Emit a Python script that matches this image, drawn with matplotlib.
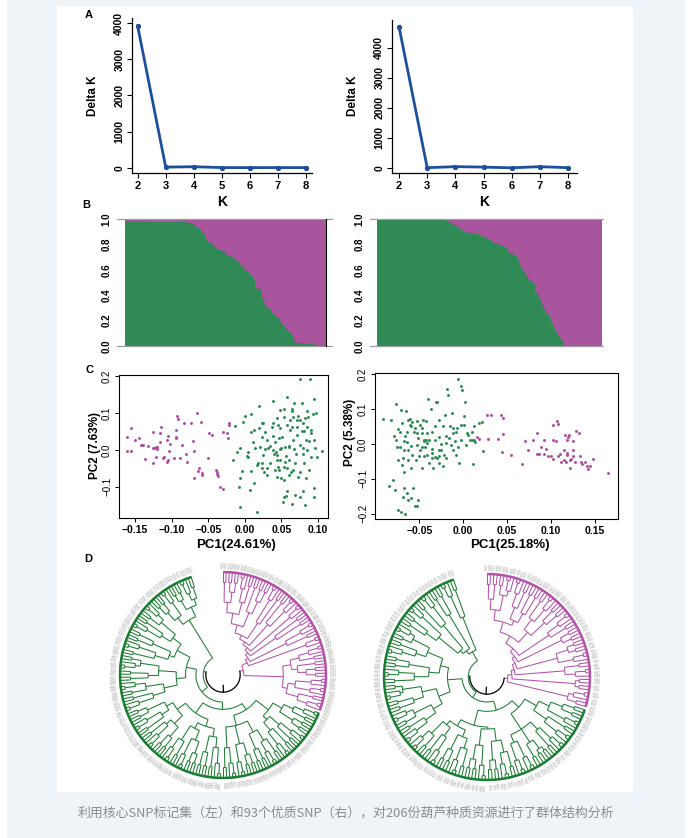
import numpy as np
import matplotlib
matplotlib.use("Agg")
import matplotlib.pyplot as plt
from matplotlib.patches import Rectangle
from matplotlib.collections import LineCollection

W, H = 692, 838

# ---------------- data ----------------
k_values = [2, 3, 4, 5, 6, 7, 8]
delta_k_left = [3920, 25, 35, 12, 10, 12, 10]
delta_k_right = [4700, 10, 45, 30, 5, 45, 10]

# green (Q1) membership per sample, sorted, run-length encoded (value, count)
green_runs_left = [(0.985, 20), (0.98, 30), (0.975, 15), (0.97, 6), (0.95, 2), (0.93, 3),
                   (0.91, 3), (0.89, 3), (0.84, 2), (0.82, 3), (0.81, 4), (0.78, 3),
                   (0.76, 4), (0.75, 6), (0.72, 5), (0.70, 3), (0.68, 3), (0.66, 3),
                   (0.64, 3), (0.61, 3), (0.59, 3), (0.56, 4), (0.52, 2), (0.46, 3),
                   (0.45, 4), (0.38, 2), (0.34, 3), (0.31, 3), (0.28, 3), (0.25, 4),
                   (0.23, 3), (0.19, 3), (0.16, 3), (0.13, 3), (0.11, 3), (0.09, 3),
                   (0.04, 2), (0.02, 10), (0.015, 11), (0.01, 10)]
green_runs_right = [(1.0, 62), (0.99, 2), (0.98, 3), (0.96, 3), (0.95, 3), (0.93, 3),
                    (0.91, 3), (0.90, 4), (0.89, 5), (0.88, 5), (0.87, 5), (0.85, 3),
                    (0.84, 3), (0.83, 3), (0.81, 3), (0.80, 3), (0.79, 3), (0.77, 3),
                    (0.75, 3), (0.73, 3), (0.71, 3), (0.68, 2), (0.64, 2), (0.61, 2),
                    (0.58, 2), (0.55, 2), (0.53, 2), (0.51, 3), (0.49, 2), (0.42, 2),
                    (0.40, 2), (0.36, 2), (0.32, 2), (0.29, 2), (0.26, 2), (0.22, 2),
                    (0.18, 2), (0.15, 2), (0.12, 2), (0.09, 2), (0.06, 2), (0.03, 2),
                    (0.01, 1), (0.0, 34)]

pca_left_magenta = [
    (-0.161, -0.002), (-0.156, -0.002), (-0.161, 0.036), (-0.155, 0.058), (-0.150, 0.027),
    (-0.142, 0.013), (-0.136, -0.025), (-0.139, 0.013), (-0.132, 0.010), (-0.126, 0.047),
    (-0.126, 0.004), (-0.124, 0.004), (-0.121, 0.007), (-0.120, 0.008), (-0.120, 0.001),
    (-0.126, -0.037), (-0.121, -0.020), (-0.116, 0.045), (-0.115, 0.061), (-0.116, 0.022),
    (-0.112, -0.023), (-0.110, -0.019), (-0.106, 0.027), (-0.105, 0.037), (-0.103, -0.002),
    (-0.102, 0.016), (-0.105, -0.028), (-0.097, -0.023), (-0.094, 0.055), (-0.093, 0.093),
    (-0.091, 0.083), (-0.094, 0.031), (-0.094, 0.035), (-0.089, -0.021), (-0.086, 0.013),
    (-0.083, 0.072), (-0.080, -0.012), (-0.073, 0.074), (-0.071, 0.025), (-0.070, -0.002),
    (-0.069, -0.077), (-0.066, 0.101), (-0.064, -0.057), (-0.062, -0.050), (-0.060, 0.076),
    (-0.059, -0.068), (-0.058, -0.064), (-0.050, -0.023), (-0.049, 0.045), (-0.045, 0.040),
    (-0.039, -0.055), (-0.038, -0.066), (-0.038, -0.059), (-0.036, -0.071), (-0.034, -0.100),
    (-0.030, -0.106), (-0.030, 0.047), (-0.025, 0.046), (-0.023, 0.031), (-0.022, 0.066),
    (-0.021, 0.074), (-0.145, 0.031), (-0.107, -0.032), (-0.079, -0.032)]
pca_left_green = [
    (-0.013, 0.064), (-0.016, -0.028), (-0.011, -0.007), (-0.007, 0.004), (-0.006, -0.077),
    (-0.004, -0.057), (-0.008, -0.100), (-0.007, -0.156), (-0.002, 0.076), (0.000, 0.092),
    (0.003, -0.016), (0.005, -0.020), (0.009, 0.096), (0.009, 0.049), (0.007, -0.109),
    (0.008, -0.057), (0.012, -0.089), (0.014, 0.006), (0.016, -0.170), (0.018, -0.035),
    (0.020, 0.120), (0.023, -0.037), (0.024, 0.036), (0.024, 0.074), (0.025, -0.014),
    (0.026, -0.060), (0.028, 0.001), (0.030, 0.027), (0.031, 0.004), (0.034, -0.037),
    (0.037, 0.063), (0.038, 0.132), (0.039, 0.037), (0.040, -0.010), (0.041, 0.022),
    (0.043, -0.007), (0.044, -0.073), (0.044, -0.028), (0.046, 0.066), (0.047, -0.055),
    (0.048, 0.001), (0.049, 0.004), (0.050, -0.077), (0.051, 0.036), (0.052, -0.141),
    (0.053, -0.082), (0.054, 0.090), (0.055, -0.034), (0.056, -0.016), (0.057, 0.067),
    (0.058, 0.144), (0.060, -0.068), (0.061, 0.010), (0.062, 0.054), (0.063, -0.059),
    (0.064, 0.106), (0.065, 0.110), (0.066, 0.027), (0.067, 0.001), (0.069, -0.035),
    (0.070, -0.010), (0.071, 0.081), (0.072, 0.063), (0.073, 0.092), (0.075, 0.013),
    (0.075, -0.059), (0.076, 0.191), (0.078, 0.128), (0.079, 0.072), (0.080, 0.006),
    (0.081, -0.035), (0.082, 0.085), (0.083, -0.077), (0.085, 0.063), (0.085, -0.001),
    (0.085, 0.106), (0.087, 0.090), (0.088, -0.055), (0.089, 0.191), (0.090, 0.046),
    (0.091, -0.019), (0.093, 0.097), (0.094, 0.137), (0.094, -0.104), (0.095, -0.129),
    (0.094, 0.027), (0.096, 0.004), (0.097, 0.099), (0.099, -0.020), (0.105, -0.002),
    (0.053, -0.129), (0.056, -0.125), (0.058, -0.113), (0.069, -0.122), (0.075, -0.127),
    (0.080, -0.113), (0.082, -0.150), (0.065, -0.147), (0.030, -0.050), (0.023, -0.050),
    (0.038, -0.001), (0.046, -0.046), (0.057, -0.048), (0.066, -0.055), (0.073, -0.073),
    (0.044, -0.014), (0.061, -0.028), (0.079, -0.011), (0.084, 0.027), (0.088, 0.024),
    (0.091, 0.054), (0.047, 0.031), (0.055, 0.007), (0.060, 0.007), (0.071, 0.040),
    (0.075, 0.081), (0.078, 0.052), (0.081, 0.051), (0.034, 0.010), (0.039, 0.072),
    (0.044, 0.085), (0.048, 0.058), (0.064, 0.061), (0.066, 0.090), (0.048, 0.108),
    (0.054, 0.112), (0.062, 0.081), (0.067, 0.128), (0.053, -0.046), (0.041, -0.055),
    (0.030, -0.068), (0.016, -0.041), (0.011, 0.022), (0.012, 0.054), (0.021, 0.007),
    (0.025, 0.072), (0.028, 0.049), (0.020, 0.058), (0.004, -0.005), (0.048, -0.028)]

pca_right_magenta = [
    (0.027, 0.084), (0.032, 0.084), (0.043, 0.084), (0.046, 0.075), (0.045, 0.030),
    (0.040, 0.014), (0.044, -0.024), (0.028, 0.015), (0.016, 0.019), (0.018, 0.015),
    (0.055, -0.031), (0.067, -0.057), (0.070, 0.008), (0.074, -0.016), (0.080, 0.012),
    (0.084, 0.033), (0.084, -0.029), (0.089, -0.009), (0.092, 0.012), (0.095, -0.014),
    (0.097, -0.035), (0.100, -0.033), (0.102, 0.056), (0.103, 0.012), (0.103, -0.043),
    (0.106, 0.008), (0.107, 0.065), (0.108, -0.033), (0.110, -0.029), (0.112, -0.050),
    (0.115, -0.018), (0.116, 0.027), (0.117, -0.050), (0.118, -0.031), (0.119, 0.012),
    (0.120, 0.020), (0.121, 0.027), (0.122, -0.045), (0.122, -0.069), (0.123, -0.043),
    (0.125, -0.018), (0.125, 0.008), (0.127, -0.050), (0.129, 0.038), (0.132, 0.033),
    (0.133, -0.035), (0.134, -0.050), (0.136, -0.056), (0.139, -0.050), (0.141, -0.062),
    (0.142, -0.072), (0.145, -0.062), (0.148, -0.043), (0.165, -0.083), (0.108, 0.058),
    (0.119, -0.026), (0.115, -0.045), (0.125, -0.035), (0.086, -0.029), (0.092, -0.029)]
pca_right_green = [
    (-0.091, 0.072), (-0.082, 0.068), (-0.079, 0.024), (-0.077, 0.012), (-0.077, 0.116),
    (-0.071, 0.097), (-0.070, 0.060), (-0.074, 0.043), (-0.072, -0.009), (-0.075, -0.009),
    (-0.074, -0.045), (-0.070, -0.059), (-0.069, -0.040), (-0.068, -0.081), (-0.080, -0.104),
    (-0.085, -0.120), (-0.078, -0.131), (-0.074, -0.190), (-0.071, -0.196), (-0.066, -0.200),
    (-0.069, -0.152), (-0.068, -0.126), (-0.064, -0.141), (-0.063, -0.160), (-0.059, -0.155),
    (-0.057, -0.126), (-0.055, -0.179), (-0.053, -0.177), (-0.051, -0.160), (-0.065, 0.094),
    (-0.063, 0.068), (-0.061, 0.072), (-0.061, 0.056), (-0.058, 0.062), (-0.056, 0.036),
    (-0.055, 0.046), (-0.053, 0.033), (-0.051, 0.017), (-0.049, 0.056), (-0.047, 0.033),
    (-0.046, 0.070), (-0.045, 0.012), (-0.044, -0.009), (-0.042, 0.065), (-0.041, -0.031),
    (-0.040, 0.129), (-0.039, 0.012), (-0.037, 0.100), (-0.036, 0.036), (-0.035, -0.014),
    (-0.034, -0.069), (-0.032, 0.051), (-0.031, 0.122), (-0.030, -0.040), (-0.030, 0.122),
    (-0.028, -0.016), (-0.027, 0.070), (-0.027, -0.035), (-0.025, 0.001), (-0.023, 0.051),
    (-0.022, -0.031), (-0.021, 0.084), (-0.019, -0.040), (-0.018, 0.158), (-0.017, 0.142),
    (-0.020, 0.024), (-0.016, 0.017), (-0.014, -0.002), (-0.013, 0.089), (-0.011, 0.046),
    (-0.011, 0.033), (-0.009, 0.008), (-0.008, 0.036), (-0.008, -0.031), (-0.006, 0.188),
    (-0.005, -0.053), (-0.003, 0.056), (-0.002, 0.166), (-0.001, 0.156), (0.001, 0.081),
    (0.002, 0.120), (0.003, -0.002), (0.004, 0.032), (0.006, 0.027), (0.008, 0.012),
    (0.010, 0.012), (0.012, 0.053), (0.012, 0.012), (0.013, 0.005), (0.018, 0.060),
    (0.021, 0.062), (0.023, -0.021), (0.011, -0.057), (-0.059, -0.005), (-0.053, -0.002),
    (-0.049, -0.016), (-0.045, 0.008), (-0.041, 0.003), (-0.064, 0.005), (-0.066, 0.022),
    (-0.058, -0.031), (-0.050, -0.035), (-0.045, -0.035), (-0.039, -0.055), (-0.032, -0.037),
    (-0.027, -0.055), (-0.023, -0.062), (-0.060, -0.069), (-0.054, -0.045), (-0.047, -0.069),
    (-0.068, -0.016), (-0.063, -0.016), (-0.072, 0.036), (-0.068, 0.008), (-0.064, 0.036),
    (-0.059, 0.051), (-0.053, 0.065), (-0.047, 0.046), (-0.041, 0.032), (-0.032, 0.012),
    (-0.027, 0.020), (-0.019, 0.003), (-0.012, -0.016), (-0.006, -0.009), (-0.002, 0.012),
    (0.001, 0.056), (0.010, 0.036), (-0.047, -0.009), (-0.042, 0.012), (-0.036, -0.026),
    (-0.025, -0.016), (-0.007, 0.046), (-0.015, 0.051), (-0.063, -0.045), (-0.035, -0.040)]

# dendrogram topology: lists = internal nodes [radius, child, child, ...]; ints = small clades of n tips
tree_left_magenta = [0.20,
    [0.26, [0.29, [0.32, [0.35, [0.38, [0.42,
        [0.50, [0.60, [0.70, 2, [0.80, 2, 2]], [0.72, 3, 2]], [0.65, 2, [0.78, 2, 2]]],
        [0.60, 3, 2]], [0.65, 2, 3]], 3], [0.62, 2, 2]], [0.68, 3, 2]], 3],
    [0.58, [0.66, [0.75, 3, 2], [0.72, 2, [0.80, 2, 2]]], [0.63, [0.70, 3, 3], [0.75, 2, 3]]]]
tree_left_green = [0.19,
    [0.26,
        [0.33,
            [0.40, [0.55, [0.65, [0.75, 3, 2], [0.80, 2, 2]], [0.60, [0.72, 3, 2], [0.70, 2, 3]]],
                   [0.50, [0.62, [0.74, 2, 3], [0.78, 2, 2]], [0.68, [0.80, 2, 2], 3], [0.70, 3, 2]]],
            [0.45, [0.52, [0.60, [0.70, 3, 2], [0.76, 2, 2]], [0.58, [0.68, [0.80, 2, 2], 3], [0.74, 2, 3]]],
                   [0.55, [0.66, [0.78, 2, 2], [0.72, 3, 2]], [0.62, [0.70, 2, 3], [0.80, 2, 2]]]]],
        [0.36,
            [0.45, [0.58, [0.70, 3, 2], [0.75, 2, 3]], [0.62, [0.72, 2, 2], [0.80, 3, 2]]],
            [0.50, [0.55, [0.68, 2, 3], [0.74, 2, 2]], [0.60, [0.70, 3, 2], [0.78, 2, 3]]]]],
    [0.62, [0.70, [0.80, 2, 2], 3], [0.72, [0.82, 2, 2], [0.78, 3, 2]]]]

tree_right_magenta = [0.20,
    [0.24, [0.27, [0.30, [0.33, [0.37,
        [0.45, [0.55, [0.65, [0.75, 2, 2], [0.80, 2, 3]], [0.60, [0.72, 3, 2], [0.70, 2, 2]]],
               [0.58, [0.70, 2, 3], [0.76, 2, 2]]],
        [0.72, 3, 2]], [0.80, 2, 2]], [0.70, [0.82, 2, 2], 3]], [0.75, 2, 3]], [0.85, 2, 2]],
    [0.80, 3, 2]]
tree_right_green = [0.18,
    [0.24,
        [0.33,
            [0.42, [0.55, [0.66, [0.78, 2, 2], 3], [0.70, 2, 3]],
                   [0.60, [0.70, 3, 2], [0.75, [0.85, 2, 2], 2], [0.68, 3, 3]]],
            [0.48, [0.50, [0.62, [0.74, 2, 3], [0.80, 2, 2]], [0.66, 3, [0.80, 2, 2]]],
                   [0.55, [0.62, [0.72, 2, 3], [0.78, 2, 2]], [0.60, [0.70, 3, 2], [0.76, 2, 3]]]]],
        [0.38,
            [0.50, [0.60, [0.72, 3, 2], [0.78, 2, 3]], [0.64, [0.74, 2, 2], [0.82, 3, 2]]],
            [0.46, [0.56, [0.70, 2, 3], [0.76, 2, 2]], [0.62, [0.72, 3, 2], [0.80, 2, 3]]]]],
    [0.28, [0.32, [0.36, [0.60, [0.72, 2, 2], 3], [0.65, 2, 3]], [0.70, 2, 2]], [0.62, 3, 2]]]

caption = "利用核心SNP标记集（左）和93个优质SNP（右），对206份葫芦种质资源进行了群体结构分析"

# ---------------- style ----------------
plt.rcParams['font.family'] = ['Liberation Sans', 'DejaVu Sans']
BLUE = '#1d4f9c'
BAR_G, BAR_M = '#2f8a55', '#a9559d'
PT_G, PT_M = '#2a8a52', '#b04aa4'
TR_G, TR_M = '#1b7d32', '#b452aa'
NARROW = ['Liberation Sans Narrow', 'DejaVu Sans Condensed', 'Liberation Sans']

fig = plt.figure(figsize=(W / 100, H / 100), dpi=100)
fig.patch.set_facecolor('white')


def box(l, t, r, b):
    return [l / W, 1 - b / H, (r - l) / W, (b - t) / H]


def ftext(x, y, s, **kw):
    fig.text(x / W, 1 - y / H, s, **kw)


fig.add_artist(Rectangle((7 / W, 0), 678 / W, 1, transform=fig.transFigure,
                         facecolor='#eff4f9', edgecolor='none', zorder=-10))
fig.add_artist(Rectangle((57 / W, 1 - 792 / H), 576 / W, 786 / H, transform=fig.transFigure,
                         facecolor='white', edgecolor='none', zorder=-9))

# ---------------- A: Delta K ----------------
for (l, r, top, ylim, vals, xl, ylx) in [
        (132, 312, 18, (-138, 4138), delta_k_left, 222, 93),
        (392, 577, 20, (-167, 4933), delta_k_right, 484, 353)]:
    ax = fig.add_axes(box(l, top, r, 173))
    ax.patch.set_alpha(0)
    ax.plot(k_values, vals, color=BLUE, lw=2, marker='o', ms=2.8)
    ax.set_xlim(1.8 if l == 132 else 1.75, 8.21 if l == 132 else 8.32)
    ax.set_ylim(*ylim)
    for s in ['top', 'right']:
        ax.spines[s].set_visible(False)
    for s in ['left', 'bottom']:
        ax.spines[s].set_linewidth(0.9)
    ax.set_xticks(k_values)
    ax.set_xticklabels([str(k) for k in k_values], fontsize=8, fontweight='bold')
    ax.set_yticks([0, 1000, 2000, 3000, 4000])
    ax.set_yticklabels(['0', '1000', '2000', '3000', '4000'], rotation=90, va='center',
                       fontsize=7.5, fontweight='bold')
    ax.tick_params(length=3.5, width=0.8, pad=2)
    ftext(xl, 202, 'K', fontsize=10, fontweight='bold', ha='center', va='center')
    ftext(ylx, 96, 'Delta K', fontsize=8.5, fontweight='bold', family=NARROW, rotation=90,
          ha='center', va='center')

# ---------------- B: structure bars ----------------
for (l, r, xlim, runs, border) in [
        (117, 333, (-8.7, 212.7), green_runs_left, True),
        (370, 604, (-6.9, 207.3), green_runs_right, False)]:
    ax = fig.add_axes(box(l, 216, r, 349))
    ax.patch.set_alpha(0)
    g = np.repeat([v for v, c in runs], [c for v, c in runs])
    idx = np.arange(len(g))
    ax.bar(idx, g, width=1.0, color=BAR_G, lw=0)
    ax.bar(idx, 1 - g, bottom=g, width=1.0, color=BAR_M, lw=0)
    ax.set_xlim(*xlim)
    ax.set_ylim(-0.024, 1.024)
    ax.axhline(0, color='#9a9a9a', lw=0.9)
    ax.axhline(1, color='#9a9a9a', lw=0.9)
    if border:
        ax.plot([len(g) - 0.5, len(g) - 0.5], [0, 1], color='black', lw=0.8)
    for s in ax.spines.values():
        s.set_visible(False)
    ax.set_xticks([])
    ax.set_yticks([0, 0.2, 0.4, 0.6, 0.8, 1.0])
    ax.set_yticklabels(['0.0', '0.2', '0.4', '0.6', '0.8', '1.0'], rotation=90, va='center',
                       fontsize=7, fontweight='bold')
    ax.tick_params(axis='y', length=0, pad=4)

# ---------------- C: PCA ----------------
pca_specs = [
    (119, 375, 328, 518, (-0.172, 0.1137), (-0.185, 0.203),
     [-0.15, -0.10, -0.05, 0.0, 0.05, 0.10], [-0.1, 0.0, 0.1, 0.2],
     pca_left_magenta, pca_left_green, 'PC2 (7.63%)', 'PC1(24.61%)', 95, 445, 236),
    (375, 373, 618, 519, (-0.1005, 0.1766), (-0.215, 0.204),
     [-0.05, 0.0, 0.05, 0.10, 0.15], [-0.2, -0.1, 0.0, 0.1, 0.2],
     pca_right_magenta, pca_right_green, 'PC2 (5.38%)', 'PC1(25.18%)', 350, 432, 510)]
for (l, t, r, b, xlim, ylim, xt, yt, mag, grn, ylab, xlab, ylx, yly, xlx) in pca_specs:
    ax = fig.add_axes(box(l, t, r, b))
    ax.patch.set_alpha(0)
    m = np.array(mag)
    gg = np.array(grn)
    ax.scatter(m[:, 0], m[:, 1], s=4.5, color=PT_M, lw=0)
    ax.scatter(gg[:, 0], gg[:, 1], s=4.5, color=PT_G, lw=0)
    ax.set_xlim(*xlim)
    ax.set_ylim(*ylim)
    ax.set_xticks(xt)
    ax.set_xticklabels([f"{v:.2f}".replace('-', '\u2212') for v in xt], fontsize=7.5,
                       fontweight='bold')
    ax.set_yticks(yt)
    ax.set_yticklabels([f"{v:.1f}".replace('-', '\u2212') for v in yt], rotation=90,
                       va='center', fontsize=7, family=NARROW)
    ax.tick_params(length=3, width=0.7, pad=2)
    for s in ax.spines.values():
        s.set_linewidth(0.8)
    ftext(ylx, yly, ylab, fontsize=8.5, fontweight='bold', family=NARROW, rotation=90,
          ha='center', va='center')
    ftext(xlx, 545, xlab, fontsize=9.5, fontweight='bold', ha='center', va='center')


# ---------------- D: circular dendrograms ----------------
def normalize(node, parent_r):
    if isinstance(node, int):
        if node == 1:
            return None
        rs = np.linspace(max(parent_r + 0.03, 0.97 - 0.04 * node), 0.95, node - 1)
        sub = (rs[-1], [None, None])
        for k in range(node - 3, -1, -1):
            sub = (rs[k], [sub, None])
        return sub
    r = node[0]
    return (r, [normalize(c, r) for c in node[1:]])


def count(n):
    return 1 if n is None else sum(count(c) for c in n[1])


def layout(n, angles, ctr):
    if n is None:
        a = angles[ctr[0]]
        ctr[0] += 1
        return {'r': 1.0, 'a': a, 'k': [], 'leaf': True}
    kids = [layout(c, angles, ctr) for c in n[1]]
    return {'r': n[0], 'a': float(np.mean([c['a'] for c in kids])), 'k': kids, 'leaf': False}


def segs(n, out, leaves):
    if n['leaf']:
        leaves.append(n['a'])
        return
    angs = [c['a'] for c in n['k']]
    t = np.radians(np.linspace(min(angs), max(angs), 40))
    out.append(np.column_stack([n['r'] * np.cos(t), n['r'] * np.sin(t)]))
    for c in n['k']:
        a = np.radians(c['a'])
        out.append([[n['r'] * np.cos(a), n['r'] * np.sin(a)],
                    [c['r'] * np.cos(a), c['r'] * np.sin(a)]])
        segs(c, out, leaves)


def draw_tree(cx, cy, mag, grn, span):
    S, R = 128, 104.0
    ax = fig.add_axes(box(cx - S, cy - S, cx + S, cy + S))
    ax.set_xlim(-S / R, S / R)
    ax.set_ylim(-S / R, S / R)
    ax.axis('off')
    ax.patch.set_alpha(0)
    m = normalize(mag, 0.18)
    g = normalize(grn, 0.18)
    nm, ng = count(m), count(g)
    N = nm + ng
    angles = 90 - np.arange(N) * span / (N - 1)
    ctr = [0]
    lm = layout(m, angles, ctr)
    lg = layout(g, angles, ctr)
    root_r = 0.165
    for node, col in [(lm, TR_M), (lg, TR_G)]:
        out, leaves = [], []
        segs(node, out, leaves)
        a = np.radians(node['a'])
        out.append([[root_r * np.cos(a), root_r * np.sin(a)],
                    [node['r'] * np.cos(a), node['r'] * np.sin(a)]])
        ax.add_collection(LineCollection(out, colors=col, linewidths=0.75))
        t = np.radians(np.linspace(min(leaves), max(leaves), 200))
        ax.plot(0.99 * np.cos(t), 0.99 * np.sin(t), color=col, lw=1.8, solid_capstyle='butt')
        for i, la in enumerate(leaves):
            rot = la if -90 <= la <= 90 else la + 180
            ha = 'left' if -90 <= la <= 90 else 'right'
            ar = np.radians(la)
            ax.text(1.025 * np.cos(ar), 1.025 * np.sin(ar), f"H{i + 1:03d}",
                    fontsize=2.1, color='#9a9a9a', rotation=rot, rotation_mode='anchor',
                    ha=ha, va='center')
    a1, a2 = lm['a'], lg['a']
    t = np.radians(np.linspace(a1, a2, 120))
    ax.plot(root_r * np.cos(t), root_r * np.sin(t), color='black', lw=0.9)
    ra = np.radians((a1 + a2) / 2)
    ax.plot([0.10 * np.cos(ra), root_r * np.cos(ra)], [0.10 * np.sin(ra), root_r * np.sin(ra)],
            color='black', lw=0.9)


draw_tree(223, 675, tree_left_magenta, tree_left_green, 342)
draw_tree(487, 677, tree_right_magenta, tree_right_green, 341)

# ---------------- panel letters & caption ----------------
for s, x, y in [('A', 89, 15), ('B', 86, 205), ('C', 90, 370), ('D', 88, 559)]:
    ftext(x, y, s, fontsize=8, fontweight='bold', ha='center', va='center')

ftext(346, 813, caption, fontsize=9.3, color='#8c8c8c', ha='center', va='center',
      family=['Noto Sans CJK SC', 'DejaVu Sans'])

fig.savefig('out.png', dpi=100)
